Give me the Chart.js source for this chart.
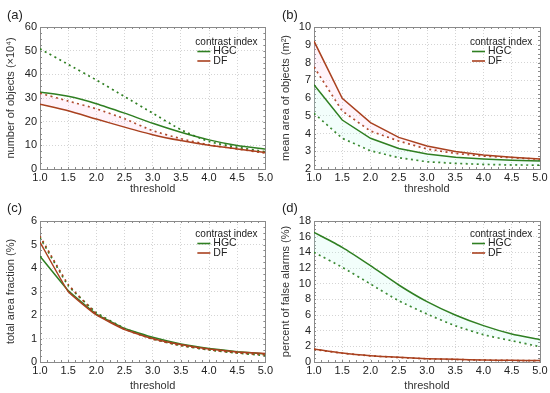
<!DOCTYPE html>
<html><head><meta charset="utf-8">
<script src="https://cdn.jsdelivr.net/npm/chart.js@4.4.0/dist/chart.umd.min.js"></script>
<style>
html,body{margin:0;padding:0;background:#fff;}
#wrap{position:relative;width:550px;height:393px;}
.p{position:absolute;}
</style></head><body>
<div id="wrap">
<div class="p" style="left:0;top:0;width:275px;height:196px"><canvas id="ca"></canvas></div>
<div class="p" style="left:275px;top:0;width:275px;height:196px"><canvas id="cb"></canvas></div>
<div class="p" style="left:0;top:196px;width:275px;height:197px"><canvas id="cc"></canvas></div>
<div class="p" style="left:275px;top:196px;width:275px;height:197px"><canvas id="cd"></canvas></div>
</div>
<script>
const thresholds = [1.0, 1.5, 2.0, 2.5, 3.0, 3.5, 4.0, 4.5, 5.0];
const xTicks = ['1.0','1.5','2.0','2.5','3.0','3.5','4.0','4.5','5.0'];

// (a) number of objects (x10^4)
const aHGC      = [32.5, 30.7, 27.6, 23.6, 19.3, 15.5, 12.3, 9.9, 8.4];
const aHGCdot   = [50.8, 44.2, 37.6, 30.6, 23.6, 16.6, 11.6, 9.2, 7.3];
const aDF       = [27.4, 24.6, 21.1, 17.7, 14.5, 12.0, 10.0, 8.5, 7.0];
const aDFdot    = [32.0, 28.7, 25.4, 21.2, 16.2, 12.8, 10.2, 8.5, 6.7];
// (b) mean area of objects (m^2)
const bHGC      = [6.75, 4.76, 3.73, 3.16, 2.85, 2.66, 2.56, 2.49, 2.45];
const bHGCdot   = [5.14, 3.73, 3.03, 2.64, 2.41, 2.32, 2.26, 2.23, 2.22];
const bDF       = [9.2, 5.98, 4.61, 3.78, 3.3, 2.98, 2.79, 2.66, 2.56];
const bDFdot    = [7.75, 5.27, 4.14, 3.58, 3.13, 2.88, 2.73, 2.64, 2.55];
// (c) total area fraction (%)
const cHGC      = [4.5, 3.04, 2.04, 1.43, 1.05, 0.77, 0.58, 0.44, 0.34];
const cHGCdot   = [5.3, 3.25, 2.1, 1.43, 0.98, 0.70, 0.51, 0.38, 0.27];
const cDF       = [5.1, 3.0, 2.0, 1.38, 1.0, 0.74, 0.55, 0.43, 0.36];
const cDFdot    = [5.35, 3.3, 2.06, 1.40, 0.97, 0.70, 0.52, 0.39, 0.30];
// (d) percent of false alarms (%)
const dHGC      = [16.55, 14.64, 12.3, 9.83, 7.7, 6.0, 4.64, 3.57, 2.85];
const dHGCdot   = [14.0, 12.1, 9.96, 7.83, 6.13, 4.64, 3.49, 2.72, 1.96];
const dDF       = [1.66, 1.15, 0.81, 0.6, 0.43, 0.34, 0.26, 0.21, 0.2];
const dDFdot    = [1.62, 1.12, 0.79, 0.58, 0.41, 0.32, 0.24, 0.19, 0.18];

const GREEN = '#2f7f22';
const RED = '#a9411f';
const FONT = 'Liberation Sans, Arial, sans-serif';
const PINK = 'rgba(255,190,225,0.18)';
const CYAN = 'rgba(185,250,235,0.18)';

function pts(arr){ return thresholds.map((x,i)=>({x:x,y:arr[i]})); }

const framePlugin = {
  id:'frame',
  beforeDatasetsDraw(chart){
    const a = chart.chartArea, ctx = chart.ctx;
    ctx.save();
    ctx.strokeStyle = '#8a8a8a'; ctx.lineWidth = 1;
    ctx.strokeRect(Math.round(a.left)+0.5, Math.round(a.top)+0.5, Math.round(a.right-a.left), Math.round(a.bottom-a.top));
    const xs = chart.scales.x, ys = chart.scales.y;
    ctx.beginPath();
    for (let v = 1; v <= 5.0001; v += 0.125) {
      const px = Math.round(xs.getPixelForValue(v))+0.5;
      ctx.moveTo(px, a.top); ctx.lineTo(px, a.top+2);
      ctx.moveTo(px, a.bottom); ctx.lineTo(px, a.bottom-2);
    }
    const o = chart.options.scales.y;
    const ms = o.ticks.stepSize/4;
    for (let v = o.min; v <= o.max+1e-9; v += ms) {
      const py = Math.round(ys.getPixelForValue(v))+0.5;
      ctx.moveTo(a.left, py); ctx.lineTo(a.left+2, py);
      ctx.moveTo(a.right, py); ctx.lineTo(a.right-2, py);
    }
    ctx.stroke();
    ctx.restore();
  },
  afterDraw(chart){
    const a = chart.chartArea, ctx = chart.ctx;
    const c = chart.options.plugins.frame;
    ctx.save();
    ctx.fillStyle = '#222';
    ctx.font = '13px ' + FONT;
    ctx.textBaseline = 'middle'; ctx.textAlign = 'left';
    ctx.fillText(c.label, 7, c.labelY);
    const lx = a.right - 70, ly = a.top + c.legTop;
    ctx.font = '10px ' + FONT;
    ctx.fillStyle = '#222';
    ctx.fillText('contrast index', lx, ly);
    ctx.font = '10.5px ' + FONT;
    ctx.lineWidth = 1.6;
    ctx.strokeStyle = GREEN;
    ctx.beginPath(); ctx.moveTo(lx+2, ly+9.5); ctx.lineTo(lx+15, ly+9.5); ctx.stroke();
    ctx.fillText('HGC', lx+18, ly+9.5);
    ctx.strokeStyle = RED;
    ctx.beginPath(); ctx.moveTo(lx+2, ly+19); ctx.lineTo(lx+15, ly+19); ctx.stroke();
    ctx.fillText('DF', lx+18, ly+19);
    ctx.restore();
  }
};

function makeChart(id, cfg){
  const ds = (data, color, dotted, fill, fillColor) => ({
    data: pts(data), borderColor: color, borderWidth: dotted ? 1.7 : 1.5,
    borderDash: dotted ? [2,3.5] : [], pointRadius: 0, tension: cfg.tension,
    fill: fill, backgroundColor: fillColor || 'transparent'
  });
  new Chart(document.getElementById(id), {
    type: 'line',
    data: { datasets: [
      ds(cfg.df, RED, false, cfg.fillDF ? '+1' : false, PINK),
      ds(cfg.dfDot, RED, true, false),
      ds(cfg.hgc, GREEN, false, cfg.fillHGC ? '+1' : false, CYAN),
      ds(cfg.hgcDot, GREEN, true, false)
    ]},
    plugins: [framePlugin],
    options: {
      responsive: true, maintainAspectRatio: false, animation: false,
      layout: { padding: { left: 0, right: cfg.padRight, top: cfg.padTop, bottom: 0 } },
      plugins: {
        legend: { display: false }, tooltip: { enabled: false },
        frame: { label: cfg.label, labelY: cfg.labelY, legTop: cfg.legTop }
      },
      scales: {
        x: {
          type: 'linear', min: 1, max: 5,
          ticks: { stepSize: 0.5, autoSkip: false, maxRotation: 0, color: '#222', font: { size: 11, family: FONT }, padding: 2,
                   callback: (v) => { const i = thresholds.indexOf(v); return i >= 0 ? xTicks[i] : ''; } },
          grid: { color: '#d4d4d4', drawTicks: false, tickLength: 0 },
          border: { display: false, dash: [1,2] },
          title: { display: true, text: 'threshold', color: '#333', font: { size: 11, family: FONT }, padding: { top: 2, bottom: 0 } },
          afterFit: (s) => { s.height = cfg.xH; }
        },
        y: {
          min: cfg.yMin, max: cfg.yMax,
          ticks: { stepSize: cfg.yStep, autoSkip: false, color: '#222', font: { size: 11, family: FONT }, padding: 3 },
          grid: { color: '#d4d4d4', drawTicks: false, tickLength: 0 },
          border: { display: false, dash: [1,2] },
          title: { display: true, text: cfg.yTitle, color: '#333', font: { size: 11, family: FONT }, padding: { top: 4, bottom: 1 } },
          afterFit: (s) => { s.width = cfg.yW; }
        }
      }
    }
  });
}

makeChart('ca', { hgc: aHGC, hgcDot: aHGCdot, df: aDF, dfDot: aDFdot, yMin: 0, yMax: 60, yStep: 10,
  yTitle: 'number of objects (\u00d710\u2074)', label: '(a)', labelY: 15, legTop: 15,
  padTop: 27, padRight: 8, xH: 27, yW: 40, tension: 0.2, fillDF: true, fillHGC: false });
makeChart('cb', { hgc: bHGC, hgcDot: bHGCdot, df: bDF, dfDot: bDFdot, yMin: 2, yMax: 10, yStep: 1,
  yTitle: 'mean area of objects (m\u00b2)', label: '(b)', labelY: 15, legTop: 15,
  padTop: 27, padRight: 10, xH: 27, yW: 39, tension: 0, fillDF: true, fillHGC: true });
makeChart('cc', { hgc: cHGC, hgcDot: cHGCdot, df: cDF, dfDot: cDFdot, yMin: 0, yMax: 6, yStep: 1,
  yTitle: 'total area fraction (%)', label: '(c)', labelY: 12, legTop: 13,
  padTop: 25, padRight: 8, xH: 31, yW: 40, tension: 0.1, fillDF: false, fillHGC: false });
makeChart('cd', { hgc: dHGC, hgcDot: dHGCdot, df: dDF, dfDot: dDFdot, yMin: 0, yMax: 18, yStep: 2,
  yTitle: 'percent of false alarms (%)', label: '(d)', labelY: 12, legTop: 13,
  padTop: 25, padRight: 10, xH: 31, yW: 39, tension: 0.2, fillDF: false, fillHGC: true });
</script>
</body></html>
